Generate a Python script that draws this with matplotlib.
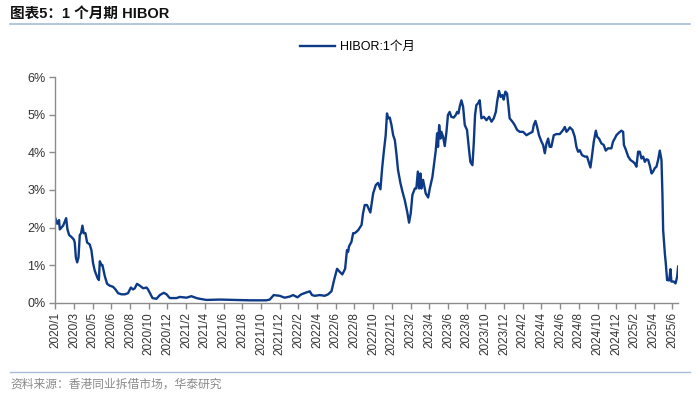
"""
1-month HIBOR line chart (图表5).
"""
import matplotlib
matplotlib.use('Agg')
import matplotlib.pyplot as plt
from matplotlib.lines import Line2D

plt.rcParams['font.family'] = ['Liberation Sans', 'Noto Sans CJK SC', 'DejaVu Sans']

# x position in label-tick units (0 = 2020/1, 33 = 2025/6), value in %
x_pos = [
    0.0, 0.1, 0.2, 0.24, 0.33, 0.42, 0.54, 0.58, 0.65, 0.74, 0.86, 0.99,
    1.04, 1.1, 1.17, 1.24, 1.31, 1.38, 1.45, 1.52, 1.61, 1.7, 1.84, 1.93,
    2.02, 2.11, 2.26, 2.33, 2.38, 2.47, 2.52, 2.65, 2.77, 2.91, 3.09, 3.22,
    3.36, 3.54, 3.72, 3.89, 4.04, 4.16, 4.25, 4.37, 4.52, 4.7, 4.88, 4.96,
    5.2, 5.41, 5.59, 5.8, 5.95, 6.12, 6.48, 6.66, 7.02, 7.28, 7.55, 7.73,
    8.09, 8.8, 9.51, 10.4, 11.29, 11.47, 11.68, 12.0, 12.27, 12.54, 12.72, 12.95,
    13.16, 13.43, 13.61, 13.73, 13.88, 14.14, 14.41, 14.59, 14.77, 14.91, 15.07, 15.21,
    15.35, 15.5, 15.53, 15.6, 15.66, 15.71, 15.84, 15.93, 16.02, 16.2, 16.38, 16.46,
    16.55, 16.67, 16.85, 17.0, 17.14, 17.26, 17.39, 17.48, 17.57, 17.67, 17.74, 17.8,
    17.89, 17.98, 18.07, 18.16, 18.24, 18.33, 18.46, 18.57, 18.69, 18.82, 18.92, 19.01,
    19.1, 19.23, 19.31, 19.39, 19.46, 19.53, 19.58, 19.67, 19.81, 19.94, 20.03, 20.17,
    20.24, 20.35, 20.42, 20.47, 20.53, 20.6, 20.65, 20.74, 20.83, 20.92, 21.0, 21.09,
    21.18, 21.31, 21.42, 21.49, 21.56, 21.63, 21.72, 21.81, 21.9, 22.02, 22.13, 22.2,
    22.31, 22.38, 22.45, 22.52, 22.61, 22.7, 22.79, 22.92, 23.06, 23.2, 23.33, 23.45,
    23.56, 23.63, 23.73, 23.82, 23.91, 23.98, 24.07, 24.16, 24.23, 24.3, 24.45, 24.57,
    24.7, 24.84, 25.02, 25.2, 25.37, 25.52, 25.59, 25.68, 25.77, 25.87, 26.0, 26.09,
    26.18, 26.27, 26.36, 26.44, 26.53, 26.66, 26.8, 26.98, 27.16, 27.25, 27.34, 27.43,
    27.52, 27.66, 27.78, 27.87, 27.96, 28.05, 28.17, 28.32, 28.44, 28.55, 28.62, 28.71,
    28.8, 28.91, 28.98, 29.08, 29.21, 29.33, 29.44, 29.56, 29.74, 29.83, 29.92, 30.01,
    30.15, 30.28, 30.37, 30.41, 30.51, 30.64, 30.76, 30.9, 30.99, 31.08, 31.17, 31.26,
    31.35, 31.44, 31.53, 31.62, 31.71, 31.8, 31.89, 31.97, 32.06, 32.15, 32.24, 32.33,
    32.42, 32.47, 32.51, 32.6, 32.65, 32.72, 32.83, 32.9, 32.95, 33.08, 33.17, 33.26,
    33.31,
]
hibor_1m = [
    2.25, 2.1, 2.2, 1.95, 2.0, 2.05, 2.2, 2.25, 1.95, 1.8, 1.75, 1.68,
    1.6, 1.2, 1.07, 1.2, 1.8, 1.85, 2.05, 1.85, 1.85, 1.6, 1.55, 1.4,
    1.05, 0.85, 0.65, 0.6, 1.1, 1.0, 1.0, 0.7, 0.5, 0.45, 0.42, 0.35,
    0.25, 0.22, 0.22, 0.25, 0.4, 0.35, 0.38, 0.5, 0.45, 0.38, 0.4, 0.35,
    0.12, 0.1, 0.2, 0.26, 0.22, 0.12, 0.12, 0.15, 0.13, 0.17, 0.12, 0.1,
    0.07, 0.08, 0.07, 0.06, 0.06, 0.08, 0.2, 0.18, 0.13, 0.16, 0.2, 0.14,
    0.22, 0.27, 0.3, 0.2, 0.18, 0.2, 0.18, 0.22, 0.3, 0.6, 0.9, 0.82,
    0.75, 0.9, 1.05, 1.4, 1.35, 1.5, 1.62, 1.85, 1.85, 1.93, 2.07, 2.38,
    2.6, 2.6, 2.4, 2.91, 3.13, 3.19, 3.02, 3.58, 4.02, 4.46, 5.04, 4.91,
    4.93, 4.73, 4.46, 4.33, 3.98, 3.53, 3.18, 2.95, 2.73, 2.42, 2.13, 2.38,
    2.87, 3.04, 3.04, 3.49, 3.04, 3.44, 3.04, 3.27, 2.91, 2.8, 3.04, 3.35,
    3.62, 4.06, 4.51, 4.15, 4.73, 4.37, 4.55, 4.42, 4.17, 4.55, 5.0, 5.08,
    4.95, 4.93, 5.0, 5.08, 5.04, 5.22, 5.39, 5.22, 4.73, 4.6, 4.06, 3.75,
    3.66, 4.24, 5.0, 5.26, 5.31, 5.39, 4.91, 4.95, 4.86, 4.95, 4.82, 4.91,
    5.08, 5.35, 5.64, 5.48, 5.53, 5.41, 5.62, 5.57, 5.26, 4.91, 4.82, 4.73,
    4.6, 4.55, 4.55, 4.46, 4.51, 4.55, 4.73, 4.84, 4.68, 4.46, 4.29, 4.2,
    3.98, 4.24, 4.37, 4.15, 4.15, 4.46, 4.49, 4.49, 4.6, 4.68, 4.55, 4.6,
    4.67, 4.6, 4.42, 4.15, 4.02, 4.06, 3.93, 3.89, 3.89, 3.71, 3.6, 3.93,
    4.29, 4.58, 4.42, 4.37, 4.24, 4.2, 4.05, 4.11, 4.11, 4.29, 4.37, 4.46,
    4.53, 4.58, 4.55, 4.2, 4.08, 3.89, 3.8, 3.75, 3.71, 3.62, 4.02, 4.02,
    3.84, 3.89, 3.75, 3.82, 3.8, 3.64, 3.44, 3.49, 3.58, 3.62, 3.8, 4.05,
    3.8, 2.91, 1.93, 1.31, 1.05, 0.6, 0.59, 0.89, 0.56, 0.56, 0.51, 0.69,
    0.96,
]

tick_labels = [
    '2020/1', '2020/3', '2020/5', '2020/6', '2020/8', '2020/10', '2020/12',
    '2021/2', '2021/4', '2021/6', '2021/8', '2021/10', '2021/12',
    '2022/2', '2022/4', '2022/6', '2022/8', '2022/10', '2022/12',
    '2023/2', '2023/4', '2023/6', '2023/8', '2023/10', '2023/12',
    '2024/2', '2024/4', '2024/6', '2024/8', '2024/10', '2024/12',
    '2025/2', '2025/4', '2025/6',
]
y_ticks = [0, 1, 2, 3, 4, 5, 6]

line_color = '#0d3a86'
axis_color = '#8c8c8c'
rule_color = '#a9bcd9'

fig = plt.figure(figsize=(7, 3.95), dpi=100)
ax = fig.add_axes([0.079, 0.234, 0.890, 0.570])

ax.plot(x_pos, hibor_1m, color=line_color, linewidth=1.7, solid_joinstyle='round')

ax.set_xlim(0, 33.32)
ax.set_ylim(0, 6)
ax.set_yticks(y_ticks)
ax.set_yticklabels([f'{v}%' for v in y_ticks], fontsize=9, color='#333333')
ax.set_xticks(range(len(tick_labels)))
ax.set_xticklabels(tick_labels, rotation=90, fontsize=8.5, color='#333333')

for side in ('top', 'right'):
    ax.spines[side].set_visible(False)
for side in ('left', 'bottom'):
    ax.spines[side].set_color(axis_color)
    ax.spines[side].set_linewidth(1.0)
ax.tick_params(axis='both', direction='out', length=4, width=1.0, color=axis_color, pad=3)

# legend
handle = Line2D([], [], color=line_color, linewidth=1.7)
fig.legend([handle], ['HIBOR:1个月'], loc='center', bbox_to_anchor=(357 / 700, 1 - 47 / 395),
           frameon=False, fontsize=9, handlelength=2.8, handletextpad=0.4)

# title and rules
fig.text(10 / 700, 1 - 14 / 395, '图表5：1 个月期 HIBOR', fontsize=10.5, fontweight='bold',
         ha='left', va='center', color='#111111')
fig.add_artist(Line2D([10 / 700, 690 / 700], [1 - 23.5 / 395] * 2, color=rule_color, linewidth=1.2))
fig.add_artist(Line2D([10 / 700, 690 / 700], [1 - 372 / 395] * 2, color=rule_color, linewidth=1.0))
fig.text(10 / 700, 1 - 385 / 395, '资料来源：香港同业拆借市场，华泰研究', fontsize=8.5,
         ha='left', va='center', color='#8a8a8a')

fig.savefig('out.png', dpi=100)
plt.close(fig)
